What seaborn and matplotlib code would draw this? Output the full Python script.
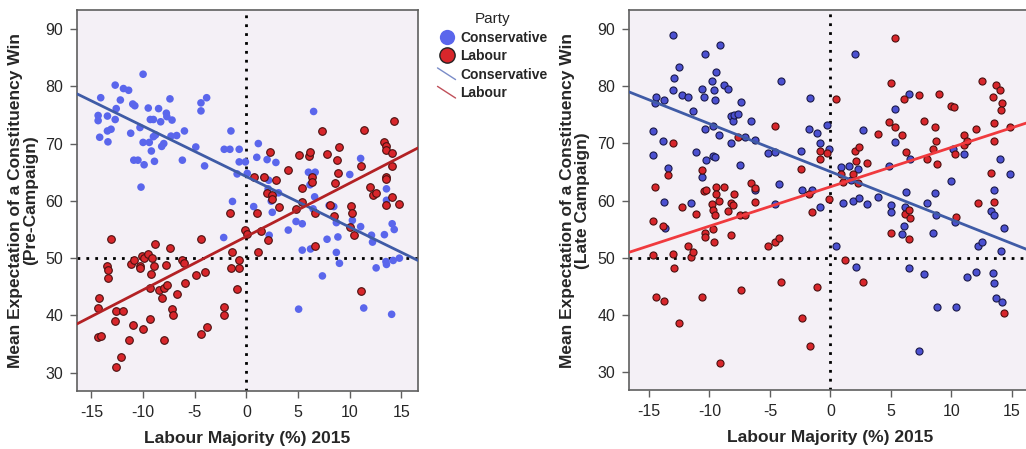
#!/usr/bin/env python3
"""Expectation of a constituency win vs 2015 Labour majority, pre- and late campaign."""

import matplotlib.pyplot as plt
from matplotlib.legend_handler import HandlerLine2D
from matplotlib.lines import Line2D
import pandas as pd
import seaborn as sns

# Pre-campaign panel
pre_con_x = [-14.35, -14.35, -14.2, -14.1, -13.45, -13.4, -13.45, -13.1, -12.7, -12.6, -12.7, -12.2,
             -11.9, -11.4, -11.2, -11.0, -10.8, -10.9, -10.5, -10.3, -10.2, -10.0, -10.0, -9.9, -9.5,
             -9.4, -9.3, -9.0, -9.2, -9.0, -8.9, -8.8, -8.5, -8.3, -8.2, -8.0, -7.75, -7.7, -7.4,
             -7.2, -7.3, -6.75, -6.2, -6.0, -4.9, -4.4, -4.4, -4.05, -3.85, -2.2, -2.15, -1.6, -1.5,
             -1.35, -0.7, -0.7, -0.1, -0.9, 0.08, 0.7, 1.15, 1.0, 1.7, 2.0, 2.1, 2.15, 2.2, 2.5,
             2.85, 3.1, 2.4, 4.05, 4.8, 5.05, 5.4, 5.4, 6.2, 6.0, 6.15, 6.5, 6.65, 6.6, 6.45, 7.35,
             7.8, 8.0, 8.45, 8.7, 8.85, 8.7, 9.0, 10.0, 10.25, 11.05, 11.05, 11.35, 12.1, 12.2,
             12.55, 13.35, 13.55, 13.55, 13.5, 13.55, 14.05, 14.1, 14.3, 14.2, 14.8]
pre_con_y = [74.9, 74.0, 71.1, 78.0, 74.8, 70.3, 72.2, 72.5, 80.2, 76.1, 74.2, 77.6,
             79.6, 79.3, 71.8, 76.9, 76.6, 67.1, 67.1, 72.8, 62.4, 82.1, 70.2, 66.3, 76.2,
             70.2, 74.2, 74.2, 68.7, 71.2, 66.9, 71.5, 76.1, 73.8, 69.5, 70.0, 75.3, 74.7, 77.8,
             74.1, 71.3, 71.4, 67.1, 72.2, 69.4, 77.1, 75.7, 66.1, 78.0, 53.6, 69.0, 69.0, 72.2,
             59.9, 69.0, 66.8, 66.8, 64.7, 64.8, 59.0, 70.0, 67.6, 64.1, 67.2, 62.1, 63.6, 54.0, 58.0,
             66.7, 61.4, 59.95, 54.9, 56.4, 41.1, 51.4, 56.0, 51.6, 65.0, 62.8, 75.6, 65.0, 60.7, 58.6, 46.9,
             53.3, 59.2, 59.0, 51.0, 53.7, 56.2, 49.1, 64.6, 56.6, 67.4, 55.5, 41.3, 54.0, 52.8,
             48.3, 54.1, 62.1, 60.1, 49.4, 48.9, 40.2, 56.0, 55.0, 49.6, 50.0]

pre_lab_x = [-13.1, -14.3, -14.35, -14.35, -14.1, -13.45, -13.4, -13.4, -12.65, -12.7, -12.65, -12.15,
             -11.9, -11.4, -11.2, -11.0, -10.9, -10.3, -10.3, -10.1, -9.9, -10.0, -9.5, -9.3, -9.3,
             -9.25, -9.15, -8.9, -8.85, -8.5, -8.15, -8.0, -8.0, -7.75, -7.7, -7.4, -7.2, -7.1, -6.75,
             -6.2, -6.0, -5.95, -4.9, -4.4, -4.4, -4.05, -3.85, -2.2, -2.2, -1.6, -1.35, -1.5, -0.7,
             -0.7, -0.9, -0.1, 0.08, 0.7, 1.0, 1.15, 1.4, 1.7, 1.95, 2.3, 2.1, 2.5, 2.5, 2.85, 3.15,
             4.05, 4.8, 5.05, 5.4, 5.4, 6.05, 6.15, 6.3, 6.3, 6.6, 6.65, 7.35, 7.8, 8.05, 8.6, 8.5,
             8.75, 8.85, 9.0, 10.15, 10.25, 10.0, 10.4, 11.05, 11.05, 11.35, 12.0, 12.2, 12.55, 13.3,
             13.5, 13.55, 13.5, 13.5, 13.5, 14.05, 14.1, 14.1, 14.3, 14.8]
pre_lab_y = [53.3, 43.1, 41.3, 36.2, 36.4, 48.7, 48.0, 46.6, 40.8, 39.0, 31.0, 32.8,
             40.8, 35.8, 48.9, 38.4, 49.7, 48.6, 48.2, 50.3, 50.1, 37.7, 50.8, 44.8, 39.3,
             47.2, 50.0, 48.7, 52.4, 44.5, 43.1, 35.7, 44.8, 48.8, 45.3, 51.7, 41.2, 40.0, 43.7,
             49.7, 49.2, 45.6, 47.1, 53.3, 36.8, 47.5, 37.9, 41.5, 40.1, 57.9, 51.0, 48.2, 49.6,
             48.2, 44.7, 54.9, 54.3, 64.2, 57.8, 51.0, 54.8, 64.1, 61.4, 68.5, 53.2, 61.0, 60.3, 63.7, 59.0,
             65.4, 58.6, 68.0, 62.2, 59.8, 67.9, 68.5, 64.2, 63.3, 57.9, 52.2, 72.2, 68.2, 59.2, 63.2, 57.4,
             67.1, 64.9, 69.4, 59.1, 57.8, 55.5, 54.1, 66.1, 44.3, 72.4, 62.4, 61.0, 61.4, 70.3,
             69.5, 68.9, 64.2, 63.8, 59.3, 68.4, 66.1, 60.6, 74.0, 59.4]

# Late-campaign panel
late_con_x = [-14.7, -14.7, -14.5, -14.45, -13.85, -13.75, -13.75, -13.7, -13.45, -13.0, -12.95, -13.05,
              -12.55, -12.3, -11.75, -11.5, -11.35, -11.15, -10.65, -10.6, -10.45, -10.4, -10.4, -10.25,
              -9.75, -9.7, -9.7, -9.6, -9.55, -9.5, -9.45, -9.2, -9.15, -8.8, -8.45, -8.25, -8.2, -8.05,
              -7.95, -7.65, -7.5, -7.4, -7.05, -6.55, -6.25, -6.25, -5.2, -4.6, -4.6, -4.25, -4.1, -2.4,
              -2.35, -1.8, -1.7, -1.5, -1.1, -0.9, -0.85, -0.3, -0.1, 0.5, 0.85, 1.0, 1.5, 1.7, 1.85,
              2.0, 2.15, 2.3, 2.4, 2.7, 3.05, 3.95, 4.8, 5.0, 5.0, 5.3, 5.3, 5.95, 6.1, 6.25, 6.2, 6.45,
              6.5, 6.55, 7.3, 7.7, 8.0, 8.5, 8.6, 8.75, 8.8, 10.0, 10.1, 10.3, 10.4, 11.05, 11.25, 12.0,
              12.2, 12.55, 13.3, 13.45, 13.5, 13.5, 13.5, 13.65, 14.05, 14.1, 14.2, 14.35, 14.8]
late_con_y = [72.1, 68.0, 77.1, 78.2, 70.4, 77.6, 59.7, 55.2, 65.7, 88.9, 81.5, 79.3,
              83.4, 78.4, 78.1, 59.5, 75.7, 68.5, 64.1, 79.5, 78.1, 85.7, 72.6, 67.1,
              80.9, 67.8, 73.0, 79.3, 77.6, 67.6, 82.5, 71.5, 87.3, 80.3, 79.6, 70.1, 74.8, 74.0,
              74.9, 75.1, 66.2, 77.2, 71.2, 73.9, 70.6, 61.9, 68.3, 68.5, 59.4, 62.9, 81.0, 68.6,
              61.9, 72.6, 77.9, 61.9, 71.9, 70.1, 58.8, 73.2, 69.1, 52.0, 65.9, 59.6, 66.1, 63.6, 59.9,
              85.6, 48.4, 65.5, 60.5, 72.4, 59.4, 60.6, 66.1, 59.2, 58.0, 70.3, 76.1, 54.1, 55.6, 61.5, 58.8, 78.6,
              48.2, 67.3, 33.6, 47.2, 59.5, 54.4, 61.3, 57.4, 41.3, 63.4, 69.1, 56.3, 41.3, 68.2, 46.6, 47.5,
              52.0, 52.7, 58.1, 47.3, 45.6, 61.9, 57.5, 42.9, 67.2, 51.1, 42.3, 55.2, 64.7]

late_lab_x = [-14.7, -14.7, -14.5, -14.45, -13.85, -13.75, -13.45, -13.05, -12.95, -13.0, -12.55, -12.3,
              -11.75, -11.5, -11.35, -11.15, -10.65, -10.6, -10.45, -10.25, -10.4, -10.4, -9.75, -9.7,
              -9.7, -9.65, -9.55, -9.45, -9.45, -9.2, -9.15, -8.8, -8.45, -8.25, -8.25, -8.05, -7.95,
              -7.65, -7.5, -7.4, -7.05, -6.55, -6.25, -6.25, -5.2, -4.6, -4.6, -4.25, -4.1, -2.4, -2.35,
              -1.8, -1.7, -1.5, -1.1, -0.9, -0.85, -0.3, -0.1, 0.5, 0.85, 1.0, 1.2, 1.85, 2.0, 2.15,
              2.3, 2.4, 2.7, 3.05, 3.95, 4.8, 5.0, 5.0, 5.3, 5.3, 5.95, 6.1, 6.25, 6.2, 6.45, 6.5, 6.55,
              7.3, 7.7, 8.0, 8.5, 8.6, 8.75, 8.8, 8.95, 10.0, 10.2, 10.3, 10.4, 11.05, 11.05, 11.25,
              12.0, 12.2, 12.55, 13.3, 13.45, 13.5, 13.5, 13.5, 13.65, 14.05, 14.15, 14.1, 14.35, 14.8]
late_lab_y = [56.5, 50.5, 62.3, 43.2, 55.6, 42.5, 64.4, 50.7, 48.2, 70.0, 38.6, 58.8,
              52.0, 50.2, 51.0, 57.6, 65.3, 43.2, 61.6, 61.8, 54.4, 53.7, 59.4, 58.4,
              55.1, 52.8, 57.5, 62.4, 61.2, 60.0, 31.5, 62.4, 58.2, 59.5, 53.9, 59.2, 61.1,
              71.1, 57.4, 44.3, 57.4, 63.0, 62.2, 59.8, 52.0, 52.8, 73.1, 53.4, 45.7, 65.5, 39.5,
              61.1, 34.6, 58.0, 44.9, 67.2, 68.7, 68.3, 60.2, 77.8, 64.7, 63.2, 49.6, 64.6, 68.6, 66.9,
              63.0, 69.3, 45.7, 66.5, 71.7, 73.7, 80.6, 54.4, 72.8, 88.5, 71.5, 77.7, 68.5, 57.7, 58.3, 53.2, 57.0,
              78.4, 74.0, 67.3, 69.1, 72.9, 70.5, 66.4, 78.6, 76.5, 76.3, 68.2, 57.2, 71.5, 69.7, 70.4,
              72.5, 59.5, 81.0, 64.8, 78.1, 73.5, 59.7, 70.5, 80.3, 79.4, 77.1, 75.8, 40.3, 72.9]

parties = ["Conservative", "Labour"]
FONT = ["Liberation Sans", "DejaVu Sans"]
BG = "#F4F0F6"
SPINE = "#5F5F5F"


class DiagonalLine(HandlerLine2D):
    """Legend handle drawn as a short falling diagonal, like the SPSS fit-line key."""

    def create_artists(self, legend, orig_handle, xdescent, ydescent, width, height, fontsize, trans):
        line = Line2D([-xdescent, -xdescent + width], [-ydescent + height * 1.1, -ydescent - height * 0.1],
                      color=orig_handle.get_color(), lw=orig_handle.get_linewidth())
        line.set_transform(trans)
        return [line]


def frame(x_con, y_con, x_lab, y_lab):
    return pd.DataFrame({
        "majority": x_con + x_lab,
        "expect": y_con + y_lab,
        "party": ["Conservative"] * len(x_con) + ["Labour"] * len(x_lab),
    })


def draw_panel(ax, df, xlim, point_colors, point_edges, line_colors, size, ylabel):
    ax.set_facecolor(BG)
    ax.set_xlim(*xlim)
    ax.set_ylim(26.8, 93.3)
    ax.axvline(0, color="black", ls=(0, (1, 2.2)), lw=2, zorder=1)
    ax.axhline(50, color="black", ls=(0, (1, 2.2)), lw=2, zorder=1)
    for party in parties:
        sub = df[df["party"] == party]
        sns.scatterplot(data=sub, x="majority", y="expect", color=point_colors[party],
                        edgecolor=point_edges[party], linewidth=0.8 if point_edges[party] != "none" else 0,
                        s=size, ax=ax, zorder=3, legend=False)
    for party in parties:
        sub = df[df["party"] == party]
        sns.regplot(data=sub, x="majority", y="expect", scatter=False, ci=None, truncate=False,
                    color=line_colors[party], line_kws={"lw": 2, "zorder": 4}, ax=ax)
    ax.set_xlim(*xlim)
    ax.set_ylim(26.8, 93.3)
    ax.set_xticks([-15, -10, -5, 0, 5, 10, 15])
    ax.set_yticks([30, 40, 50, 60, 70, 80, 90])
    ax.tick_params(bottom=True, left=True, direction="out", length=5, width=1, color=SPINE,
                   labelsize=11.5, pad=5)
    for spine in ax.spines.values():
        spine.set_color(SPINE)
        spine.set_linewidth(1.2)
    ax.set_xlabel("Labour Majority (%) 2015", fontsize=12.5, fontweight="bold", labelpad=8)
    ax.set_ylabel(ylabel, fontsize=12.5, fontweight="bold", labelpad=5, linespacing=1.0)


def main() -> None:
    sns.set_theme(style="white")
    plt.rcParams["font.family"] = FONT
    plt.rcParams["axes.unicode_minus"] = False

    fig = plt.figure(figsize=(10.26, 4.49), dpi=100)
    ax1 = fig.add_axes([0.075, 0.129, 0.3324, 0.8486])
    ax2 = fig.add_axes([0.613, 0.131, 0.3928, 0.846])

    draw_panel(ax1, frame(pre_con_x, pre_con_y, pre_lab_x, pre_lab_y), (-16.4, 16.6),
               {"Conservative": "#5A66EC", "Labour": "#D8262B"},
               {"Conservative": "none", "Labour": "#4A1010"},
               {"Conservative": "#3F5BA6", "Labour": "#B32124"},
               30, "Mean Expectation of a Constituency Win\n(Pre-Campaign)")
    draw_panel(ax2, frame(late_con_x, late_con_y, late_lab_x, late_lab_y), (-16.65, 16.65),
               {"Conservative": "#4B50D0", "Labour": "#D8262B"},
               {"Conservative": "#1A1A4A", "Labour": "#4A1010"},
               {"Conservative": "#3F5BA6", "Labour": "#F03A3E"},
               26, "Mean Expectation of a Constituency Win\n(Late Campaign)")

    con_line = Line2D([], [], color="#7A8CC8", lw=1)
    lab_line = Line2D([], [], color="#C0505A", lw=1)
    handles = [
        Line2D([], [], ls="none", marker="o", markersize=11, color="#5A66EC", markeredgewidth=0),
        Line2D([], [], ls="none", marker="o", markersize=11, color="#D8262B", markeredgecolor="#222222"),
        con_line,
        lab_line,
    ]
    leg = fig.legend(handles, parties + parties, title="Party", loc="upper left",
                     bbox_to_anchor=(0.421, 0.985), frameon=False, handlelength=1.3,
                     handletextpad=0.35, labelspacing=0.32, borderaxespad=0,
                     prop={"weight": "bold", "size": 10}, title_fontsize=11,
                     handler_map={con_line: DiagonalLine(), lab_line: DiagonalLine()})
    leg._legend_box.align = "center"

    fig.savefig("out.png", dpi=100)
    plt.close(fig)


if __name__ == "__main__":
    main()
